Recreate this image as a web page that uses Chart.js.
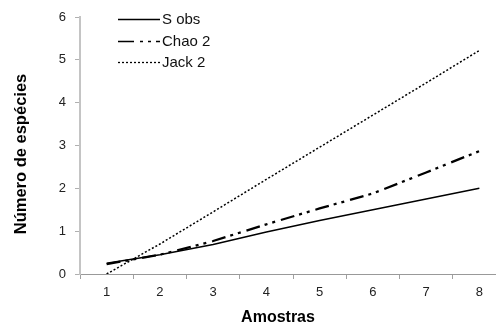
<!DOCTYPE html>
<html>
<head>
<meta charset="utf-8">
<script src="https://cdn.jsdelivr.net/npm/chart.js@4/dist/chart.umd.min.js"></script>
<style>
  html, body { margin: 0; padding: 0; background: #fff; overflow: hidden; }
  #wrap { width: 496px; height: 332px; overflow: hidden; position: relative; }
  canvas { display: block; }
</style>
</head>
<body>
<div id="wrap"><canvas id="c" width="508" height="332"></canvas></div>
<script>
// Species accumulation per number of samples
const amostras = ['1', '2', '3', '4', '5', '6', '7', '8'];
const sObs  = [0.25, 0.45, 0.69, 0.98, 1.25, 1.50, 1.75, 2.00];
const chao2 = [0.23, 0.45, 0.77, 1.16, 1.53, 1.88, 2.37, 2.87];
const jack2 = [0.00, 0.70, 1.45, 2.21, 2.96, 3.71, 4.46, 5.22];
const yTicks = [0, 1, 2, 3, 4, 5, 6];

const FONT = "'Liberation Sans', Arial, sans-serif";

// Legend drawn in the upper-left of the plot, with line samples
const sampleLegend = {
  id: 'sampleLegend',
  afterDraw(chart) {
    const ctx = chart.ctx;
    const rows = [19, 41, 62];
    chart.data.datasets.forEach((ds, i) => {
      const y = rows[i];
      ctx.save();
      ctx.strokeStyle = '#000';
      ctx.lineWidth = ds.legendWidth;
      ctx.setLineDash(ds.legendDash);
      ctx.beginPath();
      ctx.moveTo(118, y + 0.5);
      ctx.lineTo(160, y + 0.5);
      ctx.stroke();
      ctx.setLineDash([]);
      ctx.fillStyle = '#111';
      ctx.font = '15px ' + FONT;
      ctx.textBaseline = 'middle';
      ctx.textAlign = 'left';
      ctx.fillText(ds.label, 162, y + 1);
      ctx.restore();
    });
  }
};

// Axis titles
const axisTitles = {
  id: 'axisTitles',
  afterDraw(chart) {
    const ctx = chart.ctx;
    ctx.save();
    ctx.fillStyle = '#000';
    ctx.font = 'bold 16px ' + FONT;
    ctx.textAlign = 'center';
    ctx.textBaseline = 'middle';
    ctx.fillText('Amostras', 278, 318);
    ctx.translate(21, 154);
    ctx.rotate(-Math.PI / 2);
    ctx.font = 'bold 16.5px ' + FONT;
    ctx.fillText('Número de espécies', 0, 0);
    ctx.restore();
  }
};

new Chart(document.getElementById('c'), {
  type: 'line',
  data: {
    labels: amostras,
    datasets: [
      { label: 'S obs', data: sObs, borderColor: '#000', borderWidth: 1.5,
        legendWidth: 1.3, legendDash: [] },
      { label: 'Chao 2', data: chao2, borderColor: '#000', borderWidth: 2.3,
        borderDash: [14, 5, 3, 5, 3, 6], legendWidth: 1.3, legendDash: [16, 6, 3, 5, 3, 5] },
      { label: 'Jack 2', data: jack2, borderColor: '#000', borderWidth: 1.5,
        borderDash: [2, 2], legendWidth: 1.3, legendDash: [2, 2] }
    ]
  },
  options: {
    responsive: false,
    animation: false,
    devicePixelRatio: 1,
    layout: { padding: { left: 0, right: 2, top: 17, bottom: 0 } },
    elements: { point: { radius: 0 }, line: { tension: 0, fill: false } },
    plugins: { legend: { display: false }, tooltip: { enabled: false } },
    scales: {
      x: {
        type: 'category',
        offset: true,
        grid: { offset: true, drawOnChartArea: false, drawTicks: true, tickLength: 5, color: '#a0a0a0' },
        border: { color: '#999', width: 1 },
        ticks: { color: '#222', font: { family: FONT, size: 13 }, padding: 6, maxRotation: 0 },
        afterFit(scale) { scale.height = 58; }
      },
      y: {
        min: 0, max: 6,
        afterBuildTicks(scale) { scale.ticks = yTicks.map(v => ({ value: v })); },
        grid: { drawOnChartArea: false, drawTicks: true, tickLength: 5, color: '#b0b0b0' },
        border: { color: '#c4c4c4', width: 2 },
        ticks: { color: '#222', font: { family: FONT, size: 13 }, padding: 9 },
        afterFit(scale) { scale.width = 80; }
      }
    }
  },
  plugins: [sampleLegend, axisTitles]
});
</script>
</body>
</html>
